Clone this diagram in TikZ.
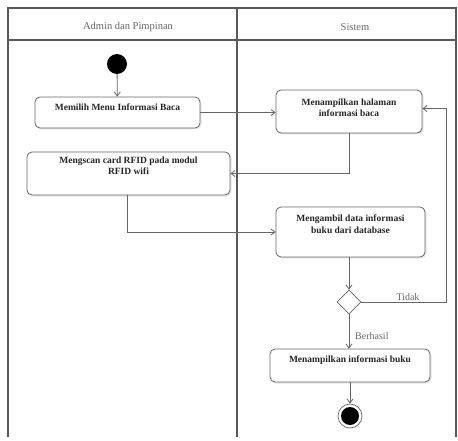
\documentclass[tikz,border=0pt]{standalone}
\usepackage{fontspec}
\setmainfont{Liberation Serif}
\usetikzlibrary{shapes.geometric,arrows.meta,shadows}
\begin{document}
\begin{tikzpicture}[x=1pt,y=-1pt,
  frame/.style={draw=black!65,line width=1.1pt},
  act/.style={draw=black!60,line width=0.8pt,rounded corners=5pt,fill=white,
    drop shadow={opacity=0.2,shadow xshift=1.5pt,shadow yshift=-1.5pt}},
  lbl/.style={font=\bfseries\fontsize{9.5}{11.5}\selectfont,align=center,inner sep=0pt,text=black!85},
  hdr/.style={font=\fontsize{10.5}{12}\selectfont,text=black!60,inner sep=0pt},
  arr/.style={draw=black!60,line width=0.8pt,-{Straight Barb[length=4pt,width=6pt]}},
  cond/.style={font=\fontsize{10}{12}\selectfont,text=black!60,inner sep=0pt}]
\useasboundingbox (0,0) rectangle (458,441);
% swimlanes
\draw[frame] (8,437) -- (8,8) -- (456,8) -- (456,437);
\draw[frame] (8,40) -- (456,40);
\draw[frame] (237,8) -- (237,437);
\node[hdr] (h1) at (128,27) {Admin dan Pimpinan};
\node[hdr] (h2) at (355,27) {Sistem};
% start
\node[circle,fill=black,minimum size=20pt,inner sep=0pt] (start) at (117,64) {};
% activities
\node[act,minimum width=165pt,minimum height=31pt] (b1) at (117.5,112.5) {};
\node[lbl] (t1) at (117.5,107) {Memilih Menu Informasi Baca};
\node[act,minimum width=203pt,minimum height=43pt] (b2) at (128.5,173.5) {};
\node[lbl] (t2) at (128.5,166) {Mengscan card RFID pada modul\\RFID wifi};
\node[act,minimum width=146pt,minimum height=43pt] (b3) at (349,111.5) {};
\node[lbl] (t3) at (349,108) {Menampilkan halaman\\informasi baca};
\node[act,minimum width=149pt,minimum height=50pt] (b4) at (350.5,232) {};
\node[lbl] (t4) at (350.5,224) {Mengambil data informasi\\buku dari database};
\node[draw=black!60,line width=0.8pt,fill=white,diamond,minimum size=24pt,inner sep=0pt] (d) at (349,302) {};
\node[act,minimum width=160pt,minimum height=33pt] (b5) at (350,365.5) {};
\node[lbl] (t5) at (350,360) {Menampilkan informasi buku};
% end
\node[circle,draw=black!60,line width=0.7pt,minimum size=24pt,inner sep=0pt] (endo) at (350,416) {};
\node[circle,fill=black,minimum size=18pt,inner sep=0pt] (endi) at (350,416) {};
% connectors
\draw[arr] (start) -- (b1);
\draw[arr] (b1.east) -- (b3.west |- b1.east);
\draw[arr] (b3.south) |- (b2.east);
\draw[arr] (b2.south -| 127,0) |- (b4.west);
\draw[arr] (b4.south -| d.north) -- (d.north);
\coordinate (c1) at (446,302);
\draw[arr] (d.east) -- (c1) |- ([yshift=3pt]b3.east);
\node[cond,anchor=south] (l1) at (408,301) {Tidak};
\draw[arr] (d.south) -- (b5.north -| d.south);
\node[cond,anchor=west] (l2) at (355,336) {Berhasil};
\draw[arr] (b5.south) -- (endo.north);
\end{tikzpicture}
\end{document}
